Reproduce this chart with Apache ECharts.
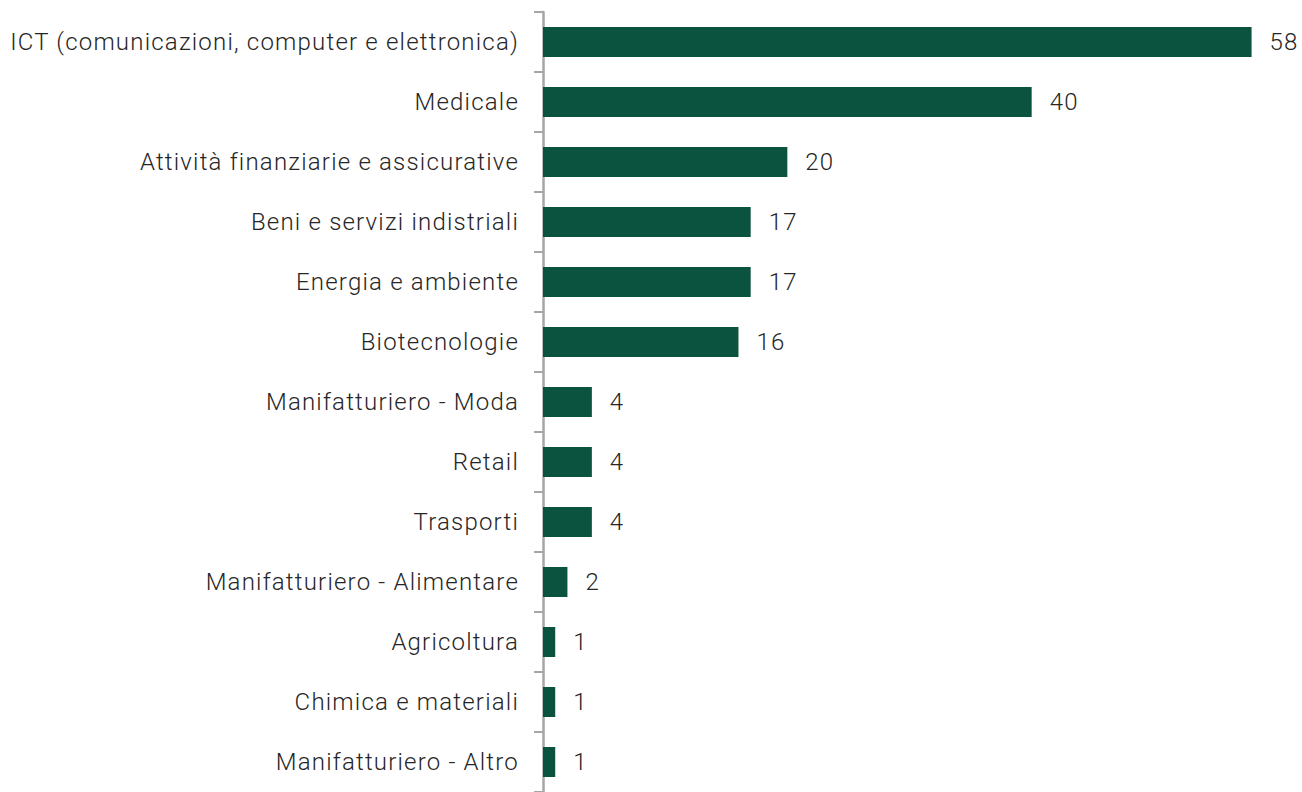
<!DOCTYPE html>
<html>
<head>
<meta charset="utf-8">
<script src="https://cdn.jsdelivr.net/npm/echarts@6/dist/echarts.min.js"></script>
<style>
  html, body { margin: 0; padding: 0; background: #ffffff; }
  #chart { width: 1302px; height: 792px; }
  #chart text { letter-spacing: 1.2px; }
</style>
</head>
<body>
<div id="chart"></div>
<script>
// Sector names, top to bottom
const categories = [
  'ICT (comunicazioni, computer e elettronica)',
  'Medicale',
  'Attività finanziarie e assicurative',
  'Beni e servizi indistriali',
  'Energia e ambiente',
  'Biotecnologie',
  'Manifatturiero - Moda',
  'Retail',
  'Trasporti',
  'Manifatturiero - Alimentare',
  'Agricoltura',
  'Chimica e materiali',
  'Manifatturiero - Altro'
];

// Count per sector
const values = [58, 40, 20, 17, 17, 16, 4, 4, 4, 2, 1, 1, 1];

const textFont = 'Roboto, "Liberation Sans", sans-serif';
const chart = echarts.init(document.getElementById('chart'), null, { renderer: 'svg' });

chart.setOption({
  animation: false,
  backgroundColor: '#ffffff',
  grid: { left: 543, top: 12, width: 733, bottom: 0, containLabel: false },
  xAxis: {
    type: 'value',
    min: 0,
    max: 60,
    show: false
  },
  yAxis: {
    type: 'category',
    inverse: true,
    data: categories,
    axisLine: { show: true, lineStyle: { color: '#a6a6a6', width: 2.5 } },
    axisTick: { show: true, length: 9, lineStyle: { color: '#a6a6a6', width: 2 } },
    axisLabel: {
      margin: 24,
      color: '#262626',
      fontFamily: textFont,
      fontWeight: 300,
      fontSize: 24
    },
    splitLine: { show: false }
  },
  series: [{
    type: 'bar',
    data: values,
    barWidth: 30,
    itemStyle: { color: '#0b533f' },
    label: {
      show: true,
      position: 'right',
      distance: 18,
      color: '#262626',
      fontFamily: textFont,
      fontWeight: 300,
      fontSize: 24
    }
  }]
});
</script>
</body>
</html>
